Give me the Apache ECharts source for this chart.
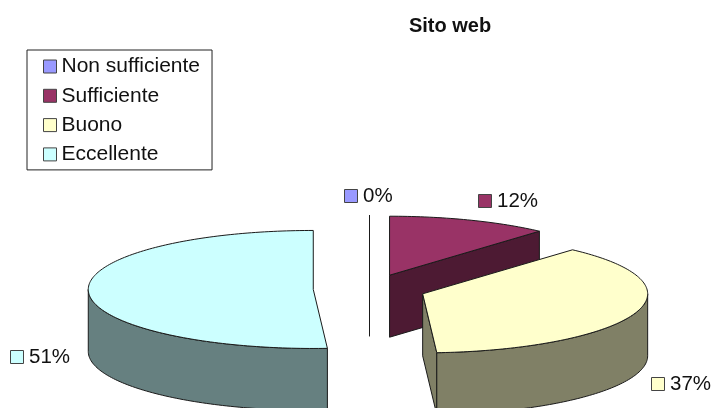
<!DOCTYPE html>
<html>
<head>
<meta charset="utf-8">
<style>
  html, body { margin: 0; padding: 0; background: #fff; }
  #chart { width: 713px; height: 408px; }
</style>
<script src="https://cdn.jsdelivr.net/npm/echarts@6/dist/echarts.min.js"></script>
</head>
<body>
<div id="chart"></div>
<script>
var categories = ['Non sufficiente', 'Sufficiente', 'Buono', 'Eccellente'];
var values = [0, 11.6, 37.4, 51];
var topColors = ['#9999ff', '#993366', '#ffffcc', '#ccffff'];
var wallColors = ['#4d4d80', '#4d1a33', '#808066', '#668080'];

// pie layout: centre, tilted radii, rim depth, explode fraction
var cx = 369.5, cy = 289, rx = 225, ry = 59, depth = 62, explode = 0.25;
var labelFont = '"Liberation Sans", Arial, sans-serif';
// swatch left / centre line of each percent label
var labelPos = [[344, 196], [478, 201], [651, 384], [10, 357]];

var total = values.reduce(function (a, b) { return a + b; }, 0);
var HALF = Math.PI / 2;

function rimPoint(ox, oy, a) {
    return [ox + rx * Math.sin(a), oy - ry * Math.cos(a)];
}

function arcPoints(ox, oy, a0, a1) {
    var n = Math.max(1, Math.ceil((a1 - a0) / 0.02));
    var pts = [];
    for (var i = 0; i <= n; i++) {
        pts.push(rimPoint(ox, oy, a0 + (a1 - a0) * i / n));
    }
    return pts;
}

function shifted(pts) {
    return pts.map(function (p) { return [p[0], p[1] + depth]; }).reverse();
}

function renderSlice(idx) {
    var before = 0;
    for (var i = 0; i < idx; i++) before += values[i];
    var a0 = before / total * 2 * Math.PI;
    var a1 = (before + values[idx]) / total * 2 * Math.PI;
    var mid = (a0 + a1) / 2;
    var ox = cx + explode * rx * Math.sin(mid);
    var oy = cy - explode * ry * Math.cos(mid);

    var wallStyle = { fill: wallColors[idx], stroke: '#1a1a1a', lineWidth: 1 };
    var topStyle = { fill: topColors[idx], stroke: '#1a1a1a', lineWidth: 1 };
    var children = [];

    // cut face on the closing side of the slice
    if (Math.sin(a1) >= 0) {
        var edge = [[ox, oy], rimPoint(ox, oy, a1)];
        children.push({ type: 'polygon', shape: { points: edge.concat(shifted(edge)) }, style: wallStyle });
    }
    // outer wall, only the part that faces the viewer
    var w0 = Math.max(a0, HALF), w1 = Math.min(a1, 3 * HALF);
    if (w1 > w0) {
        var rim = arcPoints(ox, oy, w0, w1);
        children.push({ type: 'polygon', shape: { points: rim.concat(shifted(rim)) }, style: wallStyle });
    }
    children.push({
        type: 'polygon',
        shape: { points: [[ox, oy]].concat(arcPoints(ox, oy, a0, a1)) },
        style: topStyle
    });

    // percent label with its colour swatch
    var lp = labelPos[idx];
    children.push({
        type: 'rect',
        shape: { x: lp[0] + 0.5, y: lp[1] - 6.5, width: 13, height: 13 },
        style: { fill: topColors[idx], stroke: '#444', lineWidth: 1 }
    });
    children.push({
        type: 'text',
        style: {
            x: lp[0] + 19, y: lp[1],
            text: Math.round(values[idx]) + '%',
            font: '20.5px ' + labelFont,
            fill: '#111',
            verticalAlign: 'middle'
        }
    });
    return { type: 'group', children: children };
}

var chart = echarts.init(document.getElementById('chart'));

chart.setOption({
    animation: false,
    backgroundColor: '#fff',
    title: {
        text: 'Sito web',
        left: 445,
        textAlign: 'center',
        top: 11,
        textStyle: { fontFamily: labelFont, fontSize: 20, fontWeight: 'bold', color: '#111' }
    },
    legend: {
        orient: 'vertical',
        left: 27,
        top: 50,
        padding: [6, 12, 5, 16],
        icon: 'rect',
        itemWidth: 13,
        itemHeight: 13,
        itemGap: 8.3,
        backgroundColor: '#fff',
        borderColor: '#222',
        borderWidth: 1,
        itemStyle: { borderColor: '#444', borderWidth: 1 },
        textStyle: { fontFamily: labelFont, fontSize: 21, color: '#111' },
        data: categories
    },
    series: categories.map(function (name, idx) {
        return {
            type: 'custom',
            name: name,
            coordinateSystem: 'none',
            silent: true,
            itemStyle: { color: topColors[idx] },
            data: [values[idx]],
            renderItem: function () { return renderSlice(idx); }
        };
    })
});
</script>
</body>
</html>
